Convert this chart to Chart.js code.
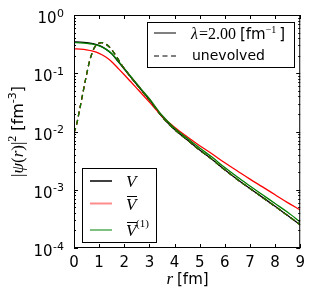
<!DOCTYPE html>
<html><head><meta charset="utf-8">
<script src="https://cdn.jsdelivr.net/npm/chart.js@4/dist/chart.umd.min.js"></script>
<style>html,body{margin:0;padding:0;background:#fff}canvas{display:block}</style>
</head><body>
<canvas id="c" width="311" height="294"></canvas>
<script>
// ---- data ----
const rSolid = [0,0.25,0.5,0.75,1,1.25,1.5,1.75,2,2.25,2.5,2.75,3,3.5,4,4.5,5,5.5,6,6.5,7,7.5,8,8.5,9];
const psiV     = [0.345,0.342,0.335,0.322,0.300,0.262,0.215,0.160,0.118,0.087,0.064,0.047,0.035,0.018,0.0108,0.0072,0.0048,0.0033,0.0022,0.0015,0.00105,0.00074,0.00052,0.00036,0.00025];
const psiVbar  = [0.262,0.260,0.253,0.240,0.220,0.192,0.158,0.122,0.094,0.072,0.055,0.042,0.032,0.0185,0.0118,0.0081,0.0057,0.0041,0.0029,0.0021,0.00152,0.00112,0.00082,0.00060,0.00045];
const psiV1    = [0.335,0.333,0.327,0.315,0.296,0.262,0.218,0.164,0.121,0.089,0.066,0.049,0.0365,0.019,0.0114,0.0077,0.0052,0.0036,0.0024,0.00165,0.00116,0.00082,0.00058,0.00041,0.00028];
const rUnevolved = [0,0.1,0.2,0.3,0.4,0.5,0.6,0.7,0.8,0.9,1.0,1.1,1.2,1.3,1.4,1.5,1.6,1.7,1.8,1.9,2.0,2.25,2.5,2.75,3,3.5,4,4.5,5,5.5,6,6.5,7,7.5,8,8.5,9];
const psiUnevolved = [0.0095,0.013,0.021,0.035,0.058,0.095,0.15,0.21,0.27,0.31,0.33,0.335,0.328,0.31,0.285,0.255,0.222,0.19,0.162,0.138,0.12,0.087,0.064,0.047,0.035,0.018,0.0108,0.0072,0.0048,0.0033,0.0022,0.0015,0.00105,0.00074,0.00052,0.00036,0.00025];
const xTickValues = [0,1,2,3,4,5,6,7,8,9];
const yDecades = [-4,-3,-2,-1,0];
const legendTop = ['λ=2.00 [fm⁻¹]', 'unevolved'];
const seriesNames = ['V', 'V̄', 'V̄(1)'];
const seriesColors = ['#000000', '#ff0000', '#008000'];

function pts(xs, ys){ return xs.map((x,i)=>({x:x, y:ys[i]})); }

const SERIF = '"Liberation Serif", "DejaVu Serif", serif';
const SANS = '"DejaVu Sans", sans-serif';

function drawRuns(ctx, parts, x, y, align){
  let total = 0;
  const ws = parts.map(p => { ctx.font = p.f; const w = ctx.measureText(p.t).width; total += w + (p.sp||0); return w; });
  let cx = align === 'center' ? x - total/2 : (align === 'right' ? x - total : x);
  ctx.textAlign = 'left'; ctx.textBaseline = 'alphabetic';
  parts.forEach((p,i) => { ctx.font = p.f; ctx.fillText(p.t, cx, y + (p.dy||0)); cx += ws[i] + (p.sp||0); });
  return total;
}

const decor = {
  id: 'decor',
  afterDraw(chart){
    const ctx = chart.ctx, a = chart.chartArea;
    const xs = chart.scales.x, ys = chart.scales.y;
    ctx.save();
    ctx.strokeStyle = '#000'; ctx.fillStyle = '#000'; ctx.lineWidth = 1;
    // frame
    ctx.strokeRect(a.left + 0.5, a.top + 0.5, a.right - a.left - 1, a.bottom - a.top - 1);
    // x ticks (inward, top and bottom)
    ctx.beginPath();
    xTickValues.forEach(v => {
      const px = Math.round(xs.getPixelForValue(v)) + 0.5;
      ctx.moveTo(px, a.bottom); ctx.lineTo(px, a.bottom - 4);
      ctx.moveTo(px, a.top); ctx.lineTo(px, a.top + 4);
    });
    // y ticks (log, inward, left and right)
    yDecades.forEach(k => {
      for (let m = 1; m <= 9; m++){
        const v = m * Math.pow(10, k);
        if (v > 1.0000001) break;
        const py = Math.round(ys.getPixelForValue(v)) + 0.5;
        const len = m === 1 ? 4 : 2;
        ctx.moveTo(a.left, py); ctx.lineTo(a.left + len, py);
        ctx.moveTo(a.right, py); ctx.lineTo(a.right - len, py);
      }
    });
    ctx.stroke();
    // y tick labels 10^k
    yDecades.forEach(k => {
      const py = ys.getPixelForValue(Math.pow(10, k));
      ctx.font = '11px ' + SANS;
      const e = String(k);
      const ew = ctx.measureText(e).width;
      ctx.textAlign = 'left'; ctx.textBaseline = 'alphabetic';
      ctx.fillText(e, 64 - ew, py + 1.5);
      ctx.font = '15px ' + SANS;
      ctx.textAlign = 'right';
      ctx.fillText('10', 64 - ew - 0.5, py + 8);
    });
    // x axis title
    drawRuns(ctx, [
      {t:'r', f:'italic 17px ' + SERIF, sp:4},
      {t:'[fm]', f:'15px ' + SANS}
    ], 187.5, 284, 'center');
    // y axis title (rotated)
    ctx.save();
    ctx.translate(22.5, 131.5);
    ctx.rotate(-Math.PI/2);
    drawRuns(ctx, [
      {t:'|', f:'17px ' + SERIF},
      {t:'ψ', f:'italic 17px ' + SERIF},
      {t:'(', f:'17px ' + SERIF},
      {t:'r', f:'italic 17px ' + SERIF},
      {t:')|', f:'17px ' + SERIF},
      {t:'2', f:'12px ' + SERIF, dy:-7, sp:5},
      {t:'[fm', f:'16px ' + SANS},
      {t:'-3', f:'11px ' + SANS, dy:-7},
      {t:']', f:'16px ' + SANS}
    ], 0, 0, 'center');
    ctx.restore();
    // legend 1 (top right)
    ctx.strokeStyle = '#000'; ctx.lineWidth = 1;
    ctx.strokeRect(147.5, 22.5, 147, 45);
    ctx.beginPath(); ctx.moveTo(154, 33); ctx.lineTo(176, 33); ctx.stroke();
    ctx.setLineDash([5, 3.5]);
    ctx.beginPath(); ctx.moveTo(154, 56); ctx.lineTo(176, 56); ctx.stroke();
    ctx.setLineDash([]);
    drawRuns(ctx, [
      {t:'λ', f:'italic 16px ' + SERIF, sp:1},
      {t:'=2.00', f:'16px ' + SERIF, sp:4},
      {t:'[fm', f:'15px ' + SANS},
      {t:'−1', f:'10px ' + SERIF, dy:-6, sp:3},
      {t:']', f:'15px ' + SANS}
    ], 191, 38.5, 'left');
    ctx.font = '14px ' + SANS; ctx.textAlign = 'left'; ctx.textBaseline = 'alphabetic';
    ctx.fillText(legendTop[1], 192, 60);
    // legend 2 (bottom left)
    ctx.strokeRect(82.5, 168.5, 74, 74);
    const rowsY = [181, 203.5, 230];
    const sampleCols = ['#404040', '#ff8c8c', '#7fbf7f'];
    ctx.lineWidth = 2;
    rowsY.forEach((y, i) => {
      ctx.strokeStyle = sampleCols[i];
      ctx.beginPath(); ctx.moveTo(90, y); ctx.lineTo(112, y); ctx.stroke();
    });
    ctx.lineWidth = 1; ctx.strokeStyle = '#000';
    ctx.font = 'italic 17px ' + SERIF; ctx.textAlign = 'left';
    ctx.fillText('V', 126, rowsY[0] + 5.5);
    ctx.fillText('V', 126, rowsY[1] + 6);
    ctx.fillText('V', 126, rowsY[2] + 6);
    ctx.beginPath();
    ctx.moveTo(127, 196.5); ctx.lineTo(137, 196.5);
    ctx.moveTo(127, 222.5); ctx.lineTo(137, 222.5);
    ctx.stroke();
    ctx.font = '11px ' + SERIF;
    ctx.fillText('(1)', 136, 227);
    ctx.restore();
  }
};

const ds = (label, xs, ys, color, dashed, order) => ({
  label, data: pts(xs, ys), borderColor: color, borderWidth: 1.3,
  borderDash: dashed ? [5, 3.5] : [], pointRadius: 0, fill: false,
  cubicInterpolationMode: 'monotone', order
});

new Chart(document.getElementById('c'), {
  type: 'line',
  data: {
    datasets: [
      ds(seriesNames[2] + ' unevolved', rUnevolved, psiUnevolved, seriesColors[2], true, 0),
      ds(seriesNames[1] + ' unevolved', rUnevolved, psiUnevolved, seriesColors[1], true, 1),
      ds(seriesNames[0] + ' unevolved', rUnevolved, psiUnevolved, seriesColors[0], true, 2),
      ds(seriesNames[2], rSolid, psiV1, seriesColors[2], false, 3),
      ds(seriesNames[1], rSolid, psiVbar, seriesColors[1], false, 4),
      ds(seriesNames[0], rSolid, psiV, seriesColors[0], false, 5)
    ]
  },
  options: {
    responsive: false, animation: false, events: [],
    layout: { padding: { left: 0, right: 10, top: 15, bottom: 0 } },
    plugins: { legend: { display: false }, tooltip: { enabled: false } },
    scales: {
      x: {
        type: 'linear', min: 0, max: 9,
        afterFit(s){ s.height = 46; },
        afterBuildTicks(s){ s.ticks = xTickValues.map(v => ({value: v})); },
        grid: { display: false, drawTicks: false, tickLength: 0 },
        border: { display: false },
        ticks: { color: '#000', font: { family: 'DejaVu Sans', size: 15 }, padding: 6, maxRotation: 0, autoSkip: false }
      },
      y: {
        type: 'logarithmic', min: 1e-4, max: 1,
        afterFit(s){ s.width = 74; },
        grid: { display: false, drawTicks: false },
        border: { display: false },
        ticks: { display: false }
      }
    }
  },
  plugins: [decor]
});
</script>
</body></html>
